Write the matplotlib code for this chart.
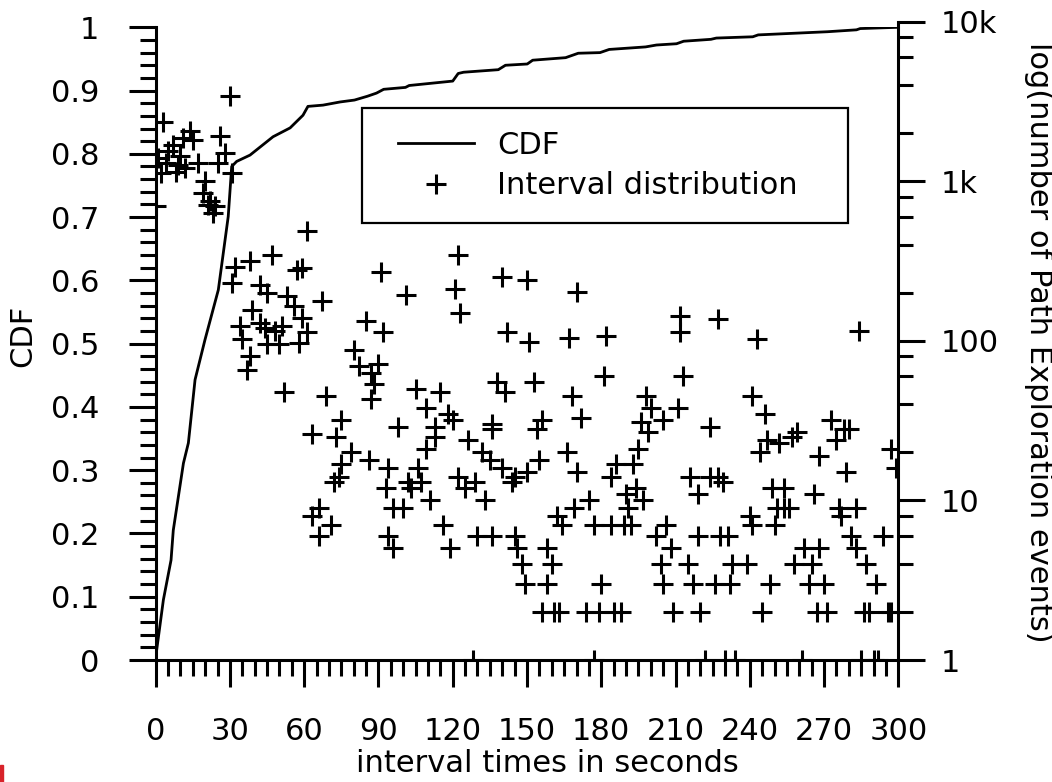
import matplotlib
matplotlib.use('Agg')
import matplotlib.pyplot as plt
from matplotlib.ticker import MultipleLocator, LogLocator, NullFormatter
from matplotlib.legend_handler import HandlerLine2D
from matplotlib.patches import Rectangle

plt.rcParams['font.family'] = ['DejaVu Sans']

# CDF of interval times
cdf_x = [0, 0.4, 3.1, 6.2, 7.1, 11.2, 13.2, 15.9, 19.9, 25.3, 29.3, 30.7, 32.7,
         38.1, 47.4, 54.3, 59.5, 61.5, 67.6, 74.5, 80.3, 85.5, 89.2, 92.1,
         100.9, 102.4, 120.0, 122.2, 124.4, 138.4, 141.3, 150.1, 152.3, 165.6,
         170.7, 179.5, 183.2, 197.9, 202.3, 210.4, 213.3, 224.3, 226.5, 241.2,
         243.4, 271.4, 283.1, 284.6, 300]
cdf_y = [0, 0.016, 0.095, 0.158, 0.205, 0.311, 0.343, 0.443, 0.506, 0.585,
         0.701, 0.780, 0.788, 0.798, 0.827, 0.841, 0.861, 0.875, 0.877, 0.882,
         0.885, 0.891, 0.896, 0.902, 0.905, 0.908, 0.915, 0.927, 0.929, 0.933,
         0.940, 0.942, 0.948, 0.952, 0.959, 0.960, 0.965, 0.969, 0.972, 0.974,
         0.978, 0.981, 0.983, 0.985, 0.988, 0.993, 0.996, 0.998, 1.0]

# number of path exploration events per interval length (seconds)
interval_x = [30, 3, 14, 15, 26, 7, 11, 5, 28, 10, 1, 17, 4, 9, 2, 8, 12, 25, 31, 20,
              19, 22, 24, 23, 21, 0, 61, 47, 38, 32, 57, 59, 31, 42, 67, 53, 45, 56, 39, 59,
              34, 42, 44, 51, 48, 35, 61, 45, 50, 58, 38, 37, 52, 69, 75, 63, 73, 75, 74, 72,
              66, 63, 71, 66,
              122, 91, 140, 150, 101, 121, 170, 123, 85, 92, 142, 151, 167, 182, 80, 82, 90, 87, 88, 87,
              105, 115, 138, 141, 153, 181, 168, 109, 118, 120, 98, 113, 136, 136, 156, 154, 172, 126, 113, 109,
              132, 135, 155, 166, 79, 86, 94, 106, 107, 102, 93, 103, 122, 125, 129, 140, 145, 144, 150, 170,
              184, 96, 100, 111, 133, 116, 94, 96, 119, 130, 136, 145, 146, 158, 162, 164, 169, 175, 177, 184,
              148, 160, 149, 158, 180, 156, 161, 163, 174, 179, 185, 128, 177,
              212, 212, 227, 243, 284, 213, 198, 200, 205, 211, 196, 199, 224, 241, 246, 247, 252, 257, 259, 273,
              278, 280, 275, 297, 268, 195, 186, 193, 190, 194, 197, 191, 189, 192, 216, 224, 227, 229, 219, 244,
              279, 299, 249, 254, 266, 251, 254, 256, 240, 241, 250, 276, 277, 283, 206, 202, 208, 219, 228, 231,
              262, 268, 281, 283, 294, 204, 215, 233, 239, 258, 265, 287, 205, 217, 226, 232, 248, 264, 270, 291,
              188, 209, 220, 245, 267, 271, 286, 288, 296, 297, 222, 230, 234, 261, 285, 290, 292]
interval_n = [3400, 2340, 2060, 1820, 1910, 1690, 1870, 1540, 1500, 1430, 1400, 1300, 1300, 1270, 1125, 1150, 1210, 1300, 1125, 1000,
              845, 750, 695, 630, 715, 695, 485, 346, 318, 292, 279, 285, 230, 225, 177, 191, 200, 166, 157, 139,
              124, 129, 121, 124, 115, 102, 113, 95, 95, 97, 80, 66, 48, 45, 32, 26, 25, 17, 14, 13,
              9, 8, 7, 6,
              346, 271, 250, 240, 193, 211, 202, 150, 133, 113, 113, 98, 104, 107, 88, 70, 72, 63, 54, 43,
              50, 48, 55, 48, 55, 60, 45, 38, 35, 32, 29, 29, 30, 28, 32, 28, 33, 24, 25, 21,
              20, 18, 18, 20, 20, 18, 16, 16, 13, 13, 12, 12, 14, 12, 13, 16, 14, 13, 15, 15,
              14, 9, 9, 10, 10, 7, 6, 5, 5, 6, 6, 6, 5, 5, 8, 7, 9, 10, 7, 7,
              4, 4, 3, 3, 3, 2, 2, 2, 2, 2, 2, 1, 1,
              143, 113, 138, 103, 116, 60, 45, 38, 32, 38, 31, 27, 29, 45, 35, 24, 23, 25, 27, 32,
              28, 28, 24, 21, 19, 21, 17, 17, 11, 12, 10, 9, 7, 7, 14, 14, 14, 13, 11, 20,
              15, 16, 12, 12, 11, 9, 9, 9, 8, 7, 7, 9, 8, 9, 7, 6, 5, 6, 6, 6,
              5, 5, 6, 5, 6, 4, 4, 4, 4, 4, 4, 4, 3, 3, 3, 3, 3, 3, 3, 3,
              2, 2, 2, 2, 2, 2, 2, 2, 2, 2, 1, 1, 1, 1, 1, 1, 1]

x_ticks = list(range(0, 301, 30))
cdf_ticks = [0, 0.1, 0.2, 0.3, 0.4, 0.5, 0.6, 0.7, 0.8, 0.9, 1]
cdf_tick_labels = ['0', '0.1', '0.2', '0.3', '0.4', '0.5', '0.6', '0.7', '0.8', '0.9', '1']
log_ticks = [1, 10, 100, 1000, 10000]
log_tick_labels = ['1', '10', '100', '1k', '10k']

W, H = 1052, 782
FS = 22
LW = 2.2

fig = plt.figure(figsize=(W / 100, H / 100), dpi=100)
x0, x1 = 155.7, 898.3
ax = fig.add_axes([x0 / W, 122 / H, (x1 - x0) / W, (660 - 27.3) / H])
ax2 = fig.add_axes([x0 / W, 122 / H, (x1 - x0) / W, (660 - 21.7) / H])
ax2.patch.set_visible(False)

# left axis: CDF
cdf_line, = ax.plot(cdf_x, cdf_y, color='black', lw=2.0, label='CDF')
ax.set_xlim(0, 300)
ax.set_ylim(0, 1)
for s in ['top', 'right']:
    ax.spines[s].set_visible(False)
for s in ['left', 'bottom']:
    ax.spines[s].set_linewidth(LW)
ax.set_xticks(x_ticks)
ax.xaxis.set_minor_locator(MultipleLocator(5))
ax.set_yticks(cdf_ticks, cdf_tick_labels)
ax.yaxis.set_minor_locator(MultipleLocator(0.02))
ax.tick_params(which='major', direction='out', length=19.5, width=LW, labelsize=FS)
ax.tick_params(which='minor', direction='out', length=11.5, width=LW)
ax.tick_params(axis='y', which='major', pad=21)
ax.tick_params(axis='x', which='major', pad=21.5)

# right axis: log counts
pts, = ax2.plot(interval_x, interval_n, '+', ls='none', color='black',
                ms=14, mew=2.2, label='Interval distribution')
ax2.set_xlim(0, 300)
ax2.set_yscale('log')
ax2.set_ylim(1, 10000)
for s in ['left', 'top', 'bottom']:
    ax2.spines[s].set_visible(False)
ax2.spines['right'].set_linewidth(LW)
ax2.xaxis.set_visible(False)
ax2.yaxis.tick_right()
ax2.set_yticks(log_ticks, log_tick_labels)
ax2.yaxis.set_minor_locator(LogLocator(base=10, subs=(2, 4, 6, 8)))
ax2.yaxis.set_minor_formatter(NullFormatter())
ax2.tick_params(axis='y', which='major', direction='out', length=19.5, width=LW,
                labelsize=FS, pad=11)
ax2.tick_params(axis='y', which='minor', direction='out', length=11, width=LW)

leg = ax2.legend(handles=[cdf_line, pts], loc='upper left',
                 bbox_to_anchor=(362 / W, 1 - 220 / H, (848 - 362) / W, (220 - 108) / H),
                 bbox_transform=fig.transFigure, mode='expand', borderaxespad=0,
                 fontsize=FS, borderpad=0.75, labelspacing=0.37,
                 handlelength=2.92, handletextpad=0.75, fancybox=False,
                 framealpha=1, edgecolor='black',
                 handler_map={cdf_line: HandlerLine2D(xpad=0.43),
                              pts: HandlerLine2D(xpad=0.43)})
leg.get_frame().set_linewidth(1.6)

fig.text(22.5 / W, 1 - 335.5 / H, 'CDF', rotation=90, ha='center', va='center', fontsize=FS)
fig.text(547 / W, 1 - 763 / H, 'interval times in seconds', ha='center', va='center', fontsize=FS)
fig.text(1038 / W, 1 - 342 / H, 'log(number of Path Exploration events)', rotation=270,
         ha='center', va='center', fontsize=FS)

fig.patches.append(Rectangle((0, 0), 3 / W, 17 / H, transform=fig.transFigure,
                             color='#d8232a', zorder=10))

fig.savefig('out.png', dpi=100)
